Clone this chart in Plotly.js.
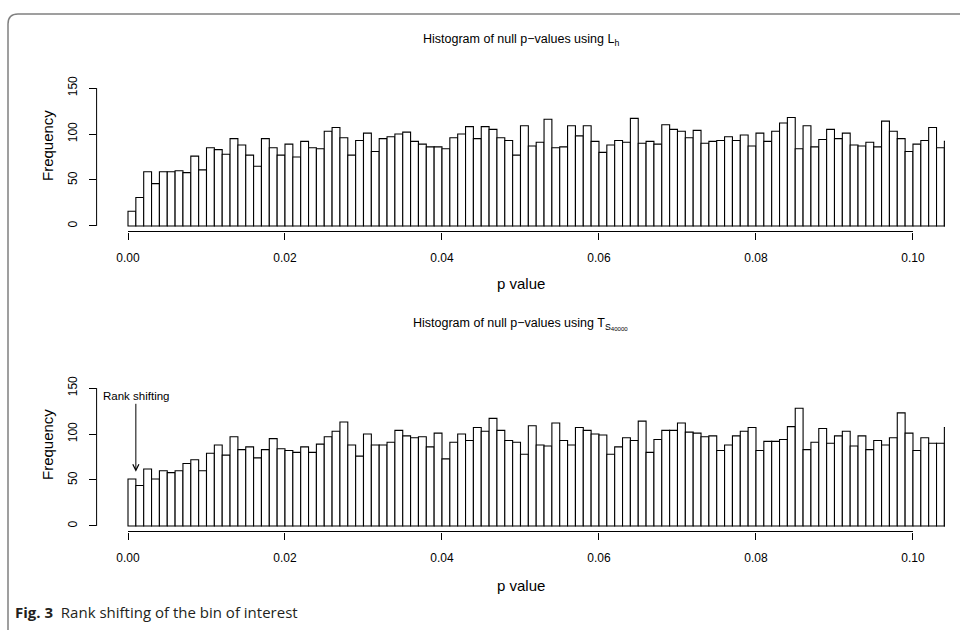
<!DOCTYPE html>
<html>
<head>
<meta charset="utf-8">
<script src="https://cdn.plot.ly/plotly-3.0.1.min.js"></script>
<style>
  html, body { margin: 0; padding: 0; background: #ffffff; }
  #chart { width: 960px; height: 630px; }
</style>
</head>
<body>
<div id="chart"></div>
<script>
// ---- data ----
var binWidth = 0.001;
var lhCounts = [16,31,59,46,59,59,60,58,76,61,85,83,78,95,88,77,65,95,85,77,89,75,92,85,84,103,107,96,77,93,101,81,95,97,
  100,102,92,89,86,86,84,96,100,108,95,108,105,96,93,77,109,87,91,116,85,86,109,98,109,92,80,88,93,91,117,90,92,89,110,
  105,103,96,104,90,92,93,97,93,99,87,101,92,103,112,118,84,109,86,94,105,95,101,88,87,91,86,114,103,95,81,89,93,107,85,92];
var tsCounts = [51,44,62,51,60,58,60,68,72,60,79,88,77,97,83,86,74,83,95,84,82,80,86,80,89,97,103,113,88,76,100,88,88,91,
  104,98,96,97,86,101,73,91,100,93,107,103,117,104,93,91,78,109,88,87,112,93,88,107,104,100,99,78,86,96,93,114,80,94,104,
  104,112,102,101,97,98,82,88,98,103,107,82,92,92,94,108,128,83,91,106,90,98,103,87,98,83,93,88,96,123,101,82,96,90,90,107];
var xTickVals = [0, 0.02, 0.04, 0.06, 0.08, 0.10];
var xTickText = ['0.00', '0.02', '0.04', '0.06', '0.08', '0.10'];
var yTickVals = [0, 50, 100, 150];
var yTickText = ['0', '50', '100', '150'];
var titleTop = 'Histogram of null p\u2212values using L<sub>h</sub>';
var titleBottom = 'Histogram of null p\u2212values using T<sub>S<sub>40000</sub></sub>';
var xLabel = 'p value';
var yLabel = 'Frequency';
var noteText = 'Rank shifting';
var noteBin = 0.001;
var caption = '<b>Fig. 3</b>  Rank shifting of the bin of interest';

// bin centres
function centres(n) { var c = []; for (var i = 0; i < n; i++) c.push((i + 0.5) * binWidth); return c; }

// ---- layout geometry (pixels -> paper) ----
var W = 960, H = 630;
function px(x) { return x / W; }
function py(y) { return 1 - y / H; }
var xDom = [px(96.6), px(945)];
var topDom = [py(231.5), py(82.5)];
var botDom = [py(531.5), py(382.5)];
var FONT = 'Liberation Sans, Arial, Helvetica, sans-serif';

function barTrace(vals, xa, ya) {
  return {
    type: 'bar', x: centres(vals.length), y: vals, width: binWidth,
    xaxis: xa, yaxis: ya,
    marker: { color: '#ffffff', line: { color: '#000000', width: 1.1 } },
    hoverinfo: 'x+y', showlegend: false
  };
}

var xAxisBase = {
  range: [-0.004, 0.10408], tickvals: xTickVals, ticktext: xTickText,
  ticks: 'outside', ticklen: 7, tickwidth: 1, tickcolor: '#000', ticklabelstandoff: 8,
  showline: false, showgrid: false, zeroline: false,
  tickfont: { family: FONT, size: 12, color: '#000' }, domain: xDom, fixedrange: true
};
var yAxisBase = {
  range: [-6, 156], tickvals: yTickVals, ticktext: yTickText,
  ticks: 'outside', ticklen: 7, tickwidth: 1, tickcolor: '#000', tickangle: -90, ticklabelstandoff: 7,
  showline: false, showgrid: false, zeroline: false,
  tickfont: { family: FONT, size: 12, color: '#000' }, fixedrange: true
};

var layout = {
  width: W, height: H,
  margin: { l: 0, r: 0, t: 0, b: 0 },
  paper_bgcolor: '#ffffff', plot_bgcolor: '#ffffff',
  bargap: 0,
  xaxis: Object.assign({}, xAxisBase, { anchor: 'y' }),
  yaxis: Object.assign({}, yAxisBase, { domain: topDom, anchor: 'x' }),
  xaxis2: Object.assign({}, xAxisBase, { anchor: 'y2' }),
  yaxis2: Object.assign({}, yAxisBase, { domain: botDom, anchor: 'x2' }),
  shapes: [
    // R-style axis lines (only between first and last tick)
    { type: 'line', xref: 'x', yref: 'paper', x0: 0, x1: 0.10, y0: topDom[0], y1: topDom[0], line: { color: '#000', width: 1 } },
    { type: 'line', xref: 'paper', yref: 'y', x0: xDom[0], x1: xDom[0], y0: 0, y1: 150, line: { color: '#000', width: 1 } },
    { type: 'line', xref: 'x2', yref: 'paper', x0: 0, x1: 0.10, y0: botDom[0], y1: botDom[0], line: { color: '#000', width: 1 } },
    { type: 'line', xref: 'paper', yref: 'y2', x0: xDom[0], x1: xDom[0], y0: 0, y1: 150, line: { color: '#000', width: 1 } },
    // journal frame
    { type: 'path', xref: 'paper', yref: 'paper',
      path: 'M ' + px(8) + ',0 L ' + px(8) + ',' + py(24) + ' Q ' + px(8) + ',' + py(14) + ' ' + px(18) + ',' + py(14) + ' L 1,' + py(14),
      line: { color: '#808080', width: 1.5 } }
  ],
  annotations: [
    { text: titleTop, xref: 'paper', yref: 'paper', x: (xDom[0] + xDom[1]) / 2, y: py(40), showarrow: false,
      xanchor: 'center', yanchor: 'middle', font: { family: FONT, size: 12.5, color: '#000' } },
    { text: titleBottom, xref: 'paper', yref: 'paper', x: (xDom[0] + xDom[1]) / 2, y: py(324), showarrow: false,
      xanchor: 'center', yanchor: 'middle', font: { family: FONT, size: 12.5, color: '#000' } },
    { text: xLabel, xref: 'paper', yref: 'paper', x: (xDom[0] + xDom[1]) / 2, y: py(284), showarrow: false,
      xanchor: 'center', yanchor: 'middle', font: { family: FONT, size: 15, color: '#000' } },
    { text: xLabel, xref: 'paper', yref: 'paper', x: (xDom[0] + xDom[1]) / 2, y: py(585), showarrow: false,
      xanchor: 'center', yanchor: 'middle', font: { family: FONT, size: 15, color: '#000' } },
    { text: yLabel, xref: 'paper', yref: 'paper', x: px(47), y: py(146), showarrow: false,
      textangle: -90, xanchor: 'center', yanchor: 'middle', font: { family: FONT, size: 15, color: '#000' } },
    { text: yLabel, xref: 'paper', yref: 'paper', x: px(47), y: py(445), showarrow: false,
      textangle: -90, xanchor: 'center', yanchor: 'middle', font: { family: FONT, size: 15, color: '#000' } },
    { text: noteText, xref: 'x2', yref: 'y2', x: noteBin, y: 59, axref: 'x2', ayref: 'y2', ax: noteBin, ay: 141,
      showarrow: true, arrowhead: 5, arrowsize: 1.2, arrowwidth: 1, arrowcolor: '#000', standoff: 0, startstandoff: 0,
      font: { family: FONT, size: 11.5, color: '#000' } },
    { text: caption, xref: 'paper', yref: 'paper', x: px(13), y: py(612), showarrow: false,
      xanchor: 'left', yanchor: 'middle', font: { family: 'Open Sans, Noto Sans, sans-serif', size: 15, color: '#231f20' } }
  ]
};

Plotly.newPlot('chart', [barTrace(lhCounts, 'x', 'y'), barTrace(tsCounts, 'x2', 'y2')], layout,
  { displayModeBar: false, staticPlot: true });
</script>
</body>
</html>
